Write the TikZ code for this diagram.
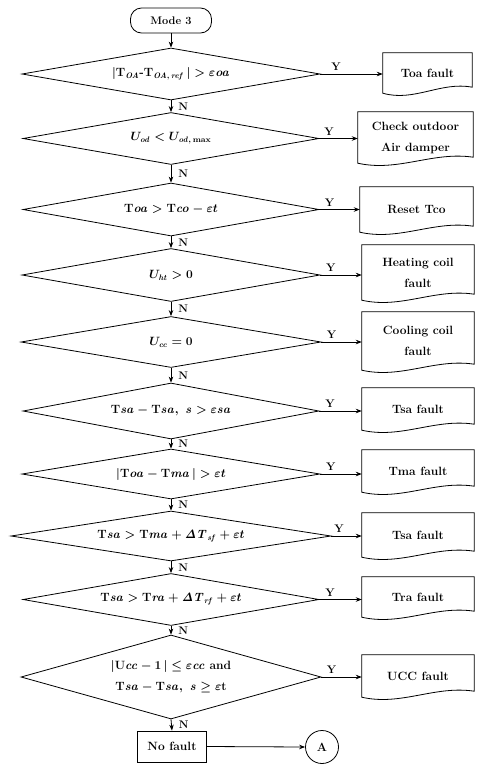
\documentclass[tikz,border=0pt]{standalone}
\usetikzlibrary{shapes.geometric,arrows.meta,calc}
\begin{document}
\begin{tikzpicture}[x=1pt,y=-1pt,
  every node/.style={font=\fontsize{12}{14}\selectfont\bfseries\boldmath},
  line/.style={line width=0.8pt},
  arr/.style={line width=0.8pt,-{Stealth[length=6pt,width=4.5pt]}},
  dec/.style={diamond, draw, line width=0.8pt, aspect=6, inner sep=0pt, align=center},
  doc/.style={inner sep=0pt, align=center},
  two/.style={font=\fontsize{12}{21}\selectfont\bfseries\boldmath},
  lab/.style={font=\fontsize{11}{13}\selectfont\bfseries, inner sep=1pt}
]
\useasboundingbox (0,0) rectangle (482,764);

% start
\node[draw, line width=0.8pt, rounded corners=11pt, minimum width=81pt, minimum height=25pt,
      font=\fontsize{11}{13}\selectfont\bfseries] (start) at (171,20.5) {Mode 3};

% decisions
\node[dec, minimum width=298pt, minimum height=52pt] (d1) at (171,74)
  {$|\mathrm{T}_{\mathit{OA}}\mbox{-}\mathrm{T}_{\mathit{OA},\,\mathit{ref}}\,| > \varepsilon\mathit{oa}$};
\node[dec, minimum width=296pt, minimum height=52pt] (d2) at (171,138.5)
  {$U_{\mathit{od}} < U_{\mathit{od},\,\max}$};
\node[dec, minimum width=296pt, minimum height=53pt] (d3) at (171,209.5)
  {$\mathrm{T}\mathit{oa} > \mathrm{T}\mathit{co} - \varepsilon t$};
\node[dec, minimum width=298pt, minimum height=53pt] (d4) at (171,275)
  {$U_{\mathit{ht}} > 0$};
\node[dec, minimum width=300pt, minimum height=51pt] (d5) at (171,342)
  {$U_{\mathit{cc}} = 0$};
\node[dec, minimum width=296pt, minimum height=56pt] (d6) at (171,411)
  {$\mathrm{T}\mathit{sa} - \mathrm{T}\mathit{sa},\ \mathit{s} > \varepsilon\mathit{sa}$};
\node[dec, minimum width=298pt, minimum height=50pt] (d7) at (171,474)
  {$|\mathrm{T}\mathit{oa} - \mathrm{T}\mathit{ma}\,| > \varepsilon t$};
\node[dec, minimum width=320pt, minimum height=50pt] (d8) at (171,536)
  {$\mathrm{T}\mathit{sa} > \mathrm{T}\mathit{ma} + \mathit{\Delta T}_{\mathit{sf}} + \varepsilon t$};
\node[dec, minimum width=296pt, minimum height=52pt] (d9) at (171,599.5)
  {$\mathrm{T}\mathit{sa} > \mathrm{T}\mathit{ra} + \mathit{\Delta T}_{\mathit{rf}} + \varepsilon t$};
\node[dec, two, aspect=3.5, minimum width=300pt, minimum height=84pt] (d10) at (171,677)
  {$|\mathrm{U}\mathit{cc} - 1\,| \le \varepsilon\mathit{cc}$ and\\
   $\mathrm{T}\mathit{sa} - \mathrm{T}\mathit{sa},\ \mathit{s} \ge \varepsilon\mathrm{t}$};

% end nodes
\node[draw, line width=0.8pt, minimum width=69pt, minimum height=31pt, inner sep=0pt] (nf) at (172,746.5) {No fault};
\node[circle, draw, line width=0.8pt, minimum size=33pt, inner sep=0pt] (A) at (322,747) {A};

% result boxes (document shape)
\node[doc, minimum width=89pt, minimum height=40pt] (b1) at (427.5,73) {Toa fault};
\node[doc, two, minimum width=115pt, minimum height=51pt] (b2) at (415.5,137.5) {Check outdoor\\Air damper};
\node[doc, minimum width=113pt, minimum height=45pt] (b3) at (416.5,209.5) {Reset Tco};
\node[doc, two, minimum width=112pt, minimum height=55pt] (b4) at (418,272.5) {Heating coil\\fault};
\node[doc, two, minimum width=112pt, minimum height=58pt] (b5) at (418,341) {Cooling coil\\fault};
\node[doc, minimum width=112pt, minimum height=42pt] (b6) at (418,409) {Tsa fault};
\node[doc, minimum width=112pt, minimum height=42pt] (b7) at (418,471) {Tma fault};
\node[doc, minimum width=112pt, minimum height=44pt] (b8) at (418,535) {Tsa fault};
\node[doc, minimum width=112pt, minimum height=40pt] (b9) at (418,597) {Tra fault};
\node[doc, minimum width=112pt, minimum height=42pt] (b10) at (418,676) {UCC fault};

\foreach \bx in {b1,b2,b3,b4,b5,b6,b7,b8,b9,b10}{
  \draw[line] let \p1=(\bx.south west), \p2=(\bx.north east) in
    (\x1,\y1) -- (\x1,\y2) -- (\x2,\y2) -- (\x2,\y1+6pt)
    .. controls ({0.35*\x1+0.65*\x2},{\y1+12pt}) and ({0.65*\x1+0.35*\x2},{\y1-9pt}) .. (\x1,\y1) -- cycle;
}

% vertical flow
\draw[arr] (start.south) -- (d1.north);
\foreach \a/\b in {d1/d2,d2/d3,d3/d4,d4/d5,d5/d6,d6/d7,d7/d8,d8/d9,d9/d10,d10/nf}{
  \draw[arr] (\a.south) -- node[lab, right, xshift=6pt]{N} (\b.north);
}

% yes branches
\foreach \i in {1,...,10}{
  \draw[arr] (d\i.east) -- node[lab, above, pos=0.25, yshift=2pt]{Y} (d\i.east -| b\i.west);
}

\draw[arr] (nf.east) -- (A.west);
\end{tikzpicture}
\end{document}
